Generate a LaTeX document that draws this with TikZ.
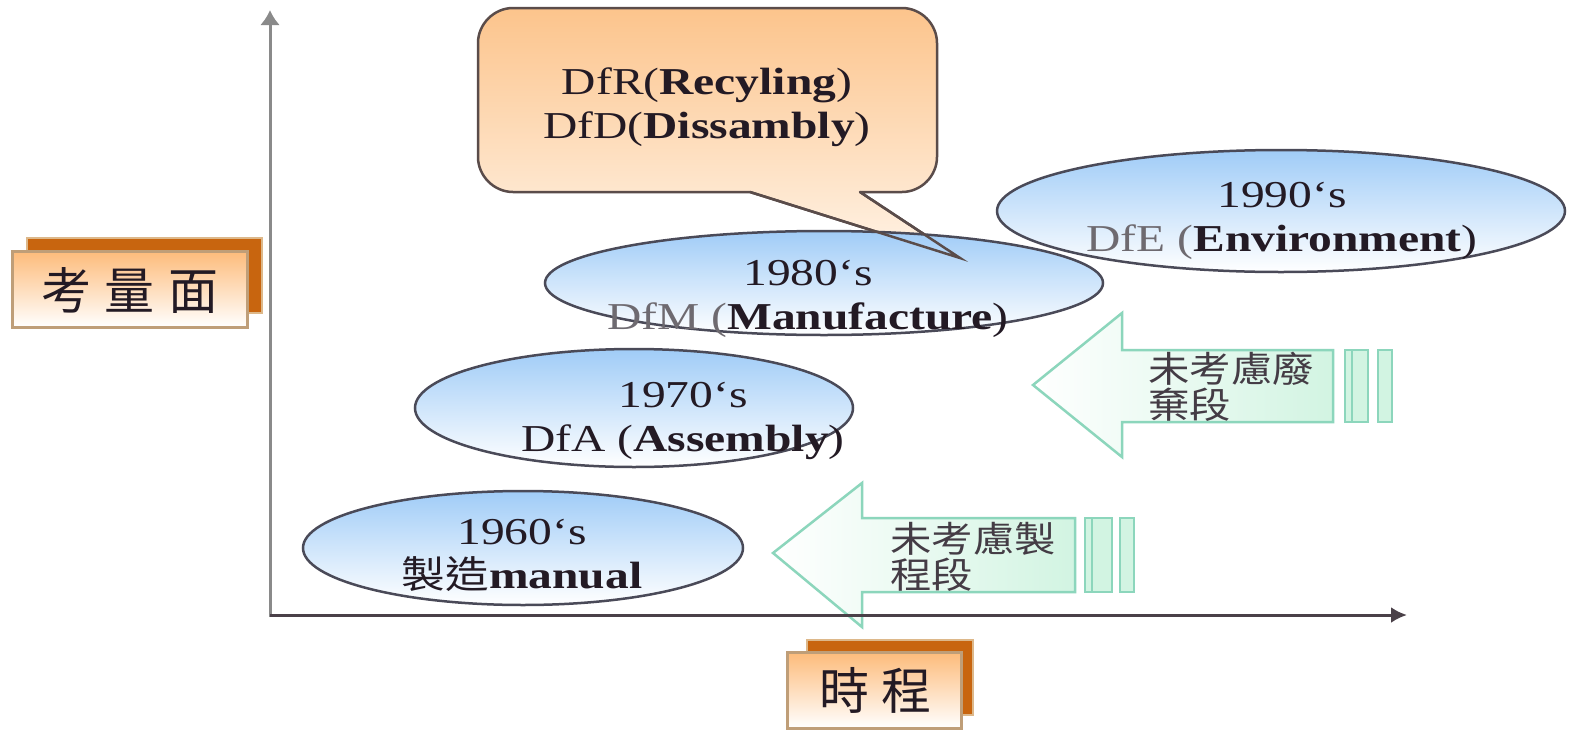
\documentclass[tikz,border=0pt]{standalone}
\usepackage{fontspec}
\usetikzlibrary{shapes.geometric,arrows.meta}
\setmainfont{Liberation Serif}
\newfontfamily\tms[FakeStretch=1.25]{Liberation Serif}
\newfontfamily\cjk[FakeStretch=1.15]{Noto Sans CJK TC}
\newfontfamily\cjklab{Noto Sans CJK TC}
\definecolor{txt}{HTML}{231A24}
\definecolor{gtxt}{HTML}{6E6A70}
\definecolor{ellblue}{HTML}{A0CCF7}
\definecolor{ellline}{HTML}{4A4A58}
\definecolor{callout}{HTML}{FCC48C}
\definecolor{calloutbot}{HTML}{FFF3E6}
\definecolor{callline}{HTML}{5A4C4A}
\definecolor{mint}{HTML}{D2F4E2}
\definecolor{mintline}{HTML}{8CD6BC}
\definecolor{shadoworange}{HTML}{C8650F}
\definecolor{shadowedge}{HTML}{DDB88A}
\definecolor{laborange}{HTML}{FDBB7A}
\definecolor{labline}{HTML}{BF9E78}
\definecolor{axisgray}{HTML}{8A8A8A}
\definecolor{axisdark}{HTML}{4A4048}
\begin{document}
\begin{tikzpicture}[x=1pt,y=-1pt,
  era/.style={ellipse, draw=ellline, line width=2.5pt, top color=ellblue, bottom color=white, inner sep=0pt},
  eratext/.style={align=center, text=txt, font=\tms\fontsize{38}{44}\selectfont, inner sep=0pt},
  arrowbody/.style={draw=mintline, line width=2.5pt, left color=white, right color=mint, line join=miter},
  arrowbar/.style={draw=mintline, line width=2.5pt, fill=mint},
  arrowtext/.style={anchor=west, text=txt!85, font=\cjk\fontsize{36}{40}\selectfont, inner sep=0pt},
  labback/.style={fill=shadoworange, draw=shadowedge, line width=2pt},
  labfront/.style={draw=labline, line width=3pt, top color=laborange, bottom color=white},
  labtext/.style={text=txt, font=\cjklab\fontsize{50}{54}\selectfont, inner sep=0pt}
]
\useasboundingbox (0,0) rectangle (1572,731);
\fill[white] (0,0) rectangle (1572,731);

% label boxes
\path[labback] (27,238) rectangle (262,313);
\path[labfront] (12,251) rectangle (247,327);
\node[labtext] (ylab) at (130,290) {考\hspace{14pt}量\hspace{14pt}面};
\path[labback] (807,640) rectangle (973,715);
\path[labfront] (787,652) rectangle (961,728);
\node[labtext] (xlab) at (875,690) {時\hspace{12pt}程};

% callout
\path[draw=callline, line width=2.5pt, top color=callout, bottom color=calloutbot, line join=round]
  (750,192) -- (513,192) .. controls (494,192) and (478,176) .. (478,157) -- (478,43)
  .. controls (478,24) and (494,8) .. (513,8) -- (902,8) .. controls (921,8) and (937,24) .. (937,43)
  -- (937,157) .. controls (937,176) and (921,192) .. (902,192) -- (860,192) -- (960,258) -- cycle;
\node[eratext] (dfr) at (707,107) {DfR(\textbf{Recyling})\\DfD(\textbf{Dissambly})};

% ellipses
\node[era, minimum width=568pt, minimum height=122pt] (e90) at (1281,211) {};
\node[era, minimum width=558pt, minimum height=104pt] (e80) at (824,283) {};
\draw[callline, line width=2.5pt] (750,192) -- (960,258) -- (860,192);
\node[era, minimum width=438pt, minimum height=118pt] (e70) at (634,408) {};
\node[era, minimum width=440pt, minimum height=114pt] (e60) at (523,548) {};

\node[eratext] (t90) at (1282,221) {1990‘s\\{\color{gtxt}DfE (}\textbf{Environment})};
\node[eratext] (t80) at (808,299) {1980‘s\\{\color{gtxt}DfM (}\textbf{Manufacture})};
\node[eratext] (t70) at (683,421) {1970‘s\\DfA (\textbf{Assembly})};
\node[eratext] (t60) at (522,555) {1960‘s\\{\cjk 製造}\textbf{manual}};

% arrows
\path[arrowbody] (1033,385) -- (1122,313) -- (1122,350) -- (1333,350) -- (1333,422) -- (1122,422) -- (1122,457) -- cycle;
\path[arrowbar] (1345,350) rectangle (1368,422);
\draw[mintline, line width=1.5pt] (1352,350) -- (1352,422);
\path[arrowbar] (1378,350) rectangle (1392,422);
\node[arrowtext] (a1l1) at (1148,369) {未考慮廢};
\node[arrowtext] (a1l2) at (1148,405) {棄段};

\path[arrowbody] (773,553) -- (862,483) -- (862,518) -- (1075,518) -- (1075,592) -- (862,592) -- (862,627) -- cycle;
\path[arrowbar] (1085,518) rectangle (1112,592);
\draw[mintline, line width=1.5pt] (1092,518) -- (1092,592);
\path[arrowbar] (1120,518) rectangle (1134,592);
\node[arrowtext] (a2l1) at (890,539) {未考慮製};
\node[arrowtext] (a2l2) at (890,575) {程段};

% axes
\coordinate (O) at (270,615);
\coordinate (ytip) at (270,10);
\coordinate (xtip) at (1407,615);
\draw[axisgray, line width=3pt, -{Latex[length=15pt,width=20pt]}] (270,617) -- (ytip);
\draw[axisdark, line width=3pt, -{Latex[length=16pt,width=16pt]}] (O) -- (xtip);
\end{tikzpicture}
\end{document}
